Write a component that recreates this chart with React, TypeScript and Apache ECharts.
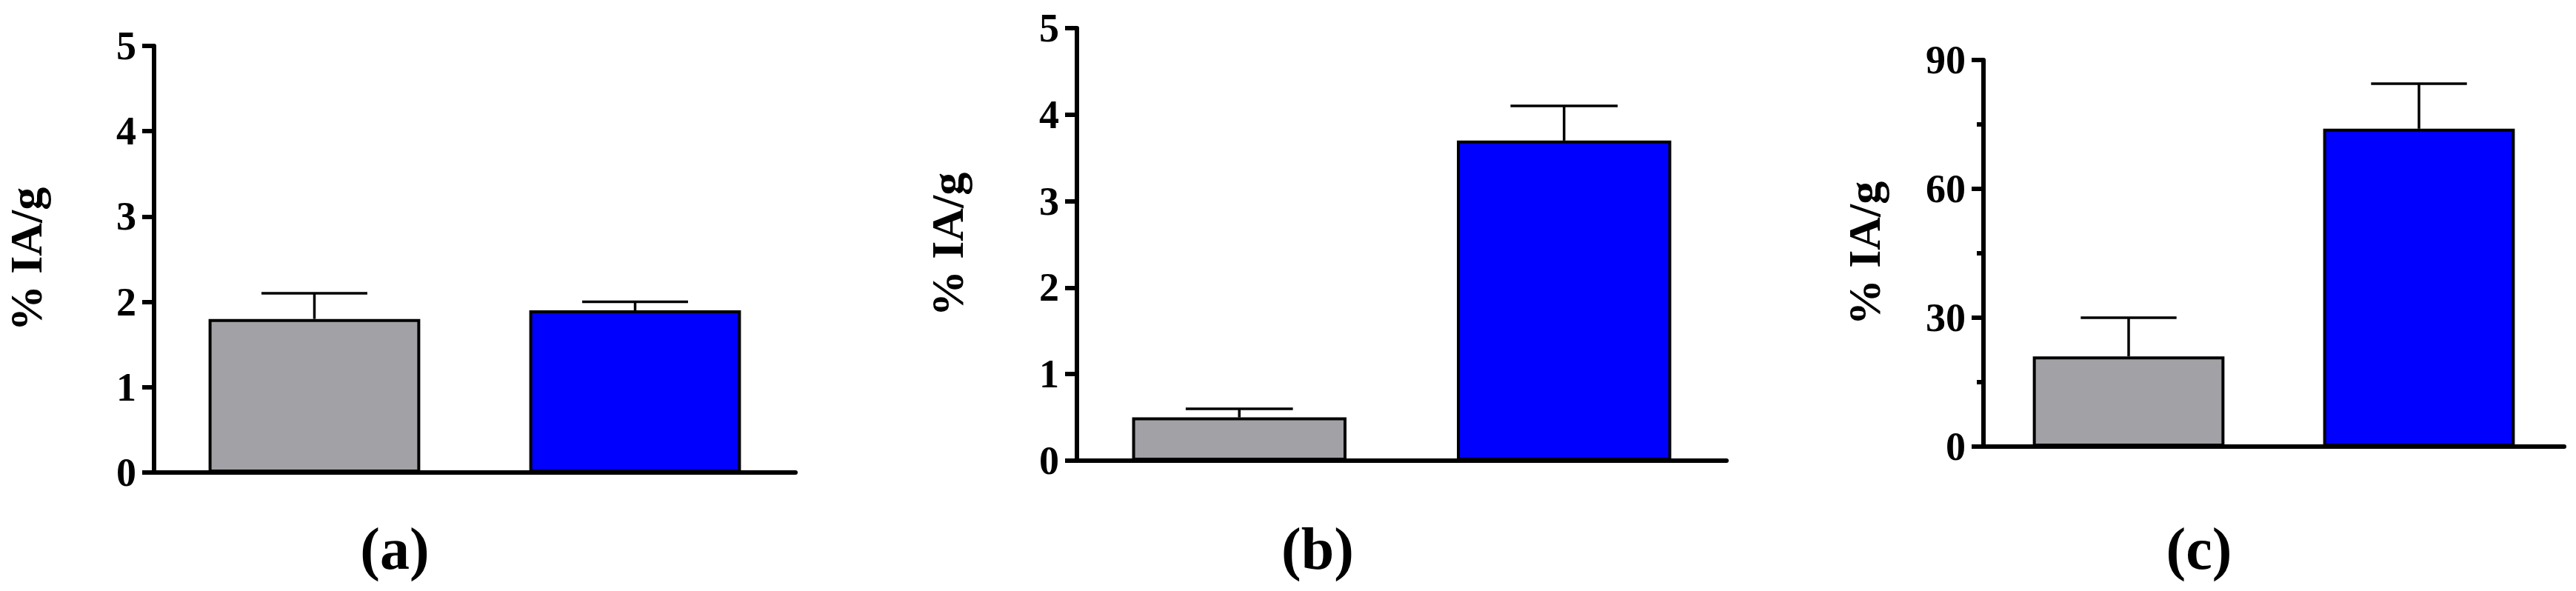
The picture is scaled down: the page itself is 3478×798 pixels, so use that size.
import React, { useEffect, useRef } from "react";
import * as echarts from "echarts";

// ---- data ----
const groups = ["Control", "Treated"];
const barColors = ["#A2A1A6", "#0000FF"];

const panelAMeans = [1.8, 1.9];
const panelAErrors = [0.3, 0.1];

const panelBMeans = [0.5, 3.7];
const panelBErrors = [0.1, 0.4];

const panelCMeans = [21, 74];
const panelCErrors = [9, 10.5];

const yAxisTitle = "% IA/g";
const panelLabels = ["(a)", "(b)", "(c)"];

const FONT = "'Liberation Serif', 'Times New Roman', serif";

const panels = [
  { means: panelAMeans, errors: panelAErrors, max: 5, interval: 1, minor: false,
    grid: { left: 208, top: 62, width: 866, height: 576 }, nameGap: 142, labelX: 533 },
  { means: panelBMeans, errors: panelBErrors, max: 5, interval: 1, minor: false,
    grid: { left: 1454, top: 38, width: 877, height: 584 }, nameGap: 144, labelX: 1779 },
  { means: panelCMeans, errors: panelCErrors, max: 90, interval: 30, minor: true,
    grid: { left: 2678, top: 81, width: 784, height: 522 }, nameGap: 130, labelX: 2969 },
];

function buildOption() {
  const grid: any[] = [];
  const xAxis: any[] = [];
  const yAxis: any[] = [];
  const series: any[] = [];
  const graphic: any[] = [];

  panels.forEach((p, i) => {
    grid.push({ ...p.grid, containLabel: false });
    xAxis.push({
      type: "category",
      gridIndex: i,
      data: groups,
      axisLine: { show: true, lineStyle: { color: "#000", width: 6 } },
      axisTick: { show: false },
      axisLabel: { show: false },
      splitLine: { show: false },
    });
    yAxis.push({
      type: "value",
      gridIndex: i,
      min: 0,
      max: p.max,
      interval: p.interval,
      name: yAxisTitle,
      nameLocation: "middle",
      nameGap: p.nameGap,
      nameRotate: 90,
      nameTextStyle: {
        fontFamily: FONT,
        fontWeight: "bold",
        fontSize: 62,
        color: "#000",
      },
      axisLine: { show: true, lineStyle: { color: "#000", width: 6 } },
      axisTick: { show: true, length: 16, lineStyle: { color: "#000", width: 6 } },
      minorTick: p.minor
        ? { show: true, splitNumber: 2, length: 9, lineStyle: { color: "#000", width: 6 } }
        : { show: false },
      axisLabel: {
        margin: 24,
        fontFamily: FONT,
        fontWeight: "bold",
        fontSize: 54,
        color: "#000",
      },
      splitLine: { show: false },
    });

    series.push({
      type: "bar",
      xAxisIndex: i,
      yAxisIndex: i,
      barWidth: "66%",
      data: p.means.map((v, k) => ({
        value: v,
        itemStyle: { color: barColors[k], borderColor: "#000", borderWidth: 4 },
      })),
      z: 2,
    });

    series.push({
      type: "custom",
      xAxisIndex: i,
      yAxisIndex: i,
      data: p.means.map((v, k) => [k, v, p.errors[k]]),
      encode: { x: 0, y: 1 },
      z: 3,
      renderItem: (params: any, api: any) => {
        const cat = api.value(0);
        const mean = api.value(1);
        const err = api.value(2);
        const base = api.coord([cat, mean]);
        const top = api.coord([cat, mean + err]);
        const band = api.size([1, 0])[0];
        const half = band * 0.66 * 0.25;
        const style = { stroke: "#000", lineWidth: 3.5 };
        return {
          type: "group",
          children: [
            { type: "line", shape: { x1: base[0], y1: base[1], x2: top[0], y2: top[1] }, style },
            { type: "line", shape: { x1: top[0] - half, y1: top[1], x2: top[0] + half, y2: top[1] }, style },
          ],
        };
      },
    });

    graphic.push({
      type: "text",
      x: p.labelX,
      y: 741,
      style: {
        text: panelLabels[i],
        fontFamily: FONT,
        fontWeight: "bold",
        fontSize: 80,
        fill: "#000",
        textAlign: "center",
        textVerticalAlign: "middle",
      },
    });
  });

  return {
    animation: false,
    backgroundColor: "#fff",
    grid,
    xAxis,
    yAxis,
    series,
    graphic,
  };
}

export default function App() {
  const ref = useRef<HTMLDivElement>(null);
  useEffect(() => {
    document.body.style.margin = "0";
    if (!ref.current) return;
    const chart = echarts.init(ref.current, undefined, { renderer: "svg" });
    chart.setOption(buildOption());
    return () => chart.dispose();
  }, []);
  return <div ref={ref} style={{ width: 3478, height: 798, overflow: "hidden" }} />;
}
